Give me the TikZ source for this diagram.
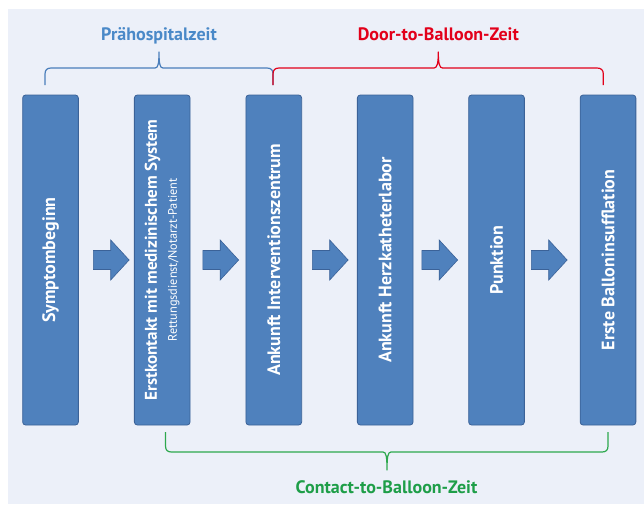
\documentclass[tikz,border=0pt]{standalone}
\usepackage{fontspec}
\setmainfont{PT Sans}
\definecolor{bg}{HTML}{ECF0F9}
\definecolor{boxfill}{HTML}{4F81BD}
\definecolor{boxline}{HTML}{3B6298}
\definecolor{titleblue}{HTML}{4A89C8}
\definecolor{braceblue}{HTML}{4A7EBB}
\definecolor{red1}{HTML}{E2001A}
\definecolor{green1}{HTML}{1E9E48}
\definecolor{green2}{HTML}{2DA84E}
\begin{document}
\begin{tikzpicture}[x=1pt,y=-1pt,
  stepbox/.style={rotate=90, draw=boxline, fill=boxfill, line width=0.8pt, rounded corners=3pt,
    minimum width=330pt, minimum height=55.7pt, inner sep=0pt, text=white,
    font=\bfseries\fontsize{18}{21}\selectfont, align=center},
  blockarrow/.style={draw=boxline, fill=boxfill, line width=0.6pt, line join=miter},
  title/.style={font=\bfseries\fontsize{18}{21}\selectfont, anchor=base},
  brace/.style={line width=1.2pt, line join=round}]
\useasboundingbox (0,0) rectangle (644,504);
\fill[white] (0,0) rectangle (644,504);
\fill[bg] (7.5,9) rectangle (644,504);

\node[stepbox] (b1) at (50.5,260) {Symptombeginn};
\node[stepbox] (b2) at (162.2,260) {\fontsize{17}{20}\selectfont Erstkontakt mit medizinischem System\\[-1pt]{\mdseries\fontsize{12.3}{14}\selectfont Rettungsdienst/Notarzt-Patient}};
\node[stepbox] (b3) at (273.8,260) {Ankunft Interventionszentrum};
\node[stepbox] (b4) at (385.2,260) {Ankunft Herzkatheterlabor};
\node[stepbox] (b5) at (496.5,260) {Punktion};
\node[stepbox] (b6) at (608,260) {Erste Balloninsufflation};

\foreach \i/\x in {1/111.2, 2/220.7, 3/330.2, 4/439.7, 5/549.2} {
  \coordinate (a\i) at (\x,260);
  \draw[blockarrow] (a\i) ++(-17.9,-9.5) -- ++(17.4,0) -- ++(0,-10.5) -- ++(18.4,20)
    -- ++(-18.4,20) -- ++(0,-10.5) -- ++(-17.4,0) -- cycle;
}

\draw[brace, braceblue] (45,85) -- (45,74) .. controls (45,70) and (47,68) .. (51,68) -- (155,68)
  .. controls (158,68) and (159,64) .. (159,52) .. controls (159,64) and (160,68) .. (163,68)
  -- (267,68) .. controls (271,68) and (273,70) .. (273,74) -- (273,85);
\draw[brace, red1] (273,85) -- (273,74) .. controls (273,70) and (275,68) .. (279,68) -- (434,68)
  .. controls (437,68) and (438.3,64) .. (438.3,52) .. controls (438.3,64) and (439.6,68) .. (442.6,68)
  -- (597,68) .. controls (601,68) and (603.3,70) .. (603.3,74) -- (603.3,85);
\draw[brace, green2] (165.5,432) -- (165.5,446) .. controls (165.5,450) and (167.5,452) .. (171.5,452) -- (383,452)
  .. controls (386,452) and (387,456) .. (387,470) .. controls (387,456) and (388,452) .. (391,452)
  -- (602,452) .. controls (606,452) and (608,450) .. (608,446) -- (608,432);

\node[title, text=titleblue] (t1) at (159,40.5) {Prähospitalzeit};
\node[title, text=red1] (t2) at (438.3,40) {Door-to-Balloon-Zeit};
\node[title, text=green1] (t3) at (386.5,493.3) {Contact-to-Balloon-Zeit};
\end{tikzpicture}
\end{document}
